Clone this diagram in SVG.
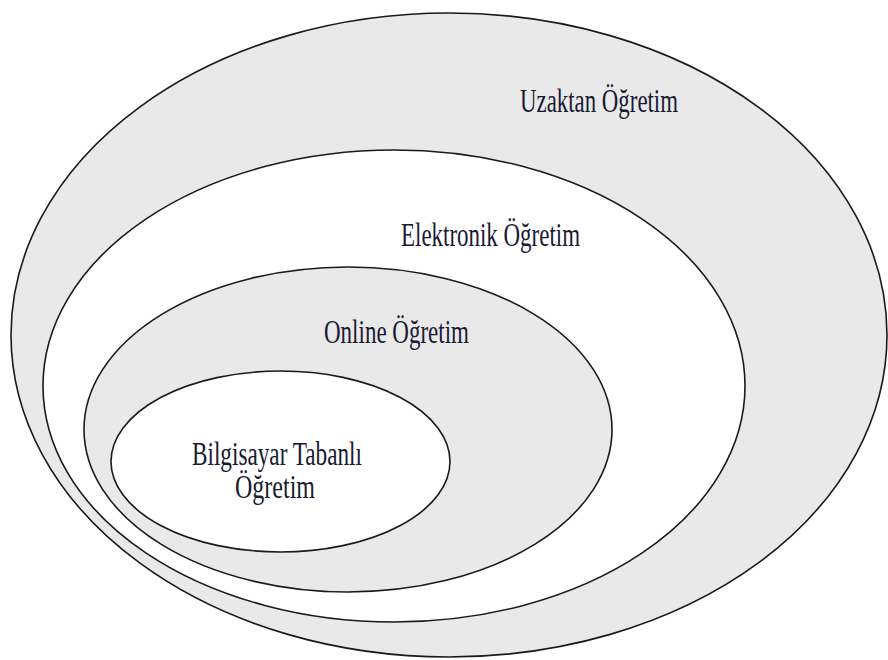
<svg xmlns="http://www.w3.org/2000/svg" width="888" height="660" viewBox="0 0 888 660">
<style>
.gray{fill:#e9e9e9;stroke:#1a1a1a;stroke-width:1.6}
.white{fill:#ffffff;stroke:#1a1a1a;stroke-width:1.6}
.lbl{font-family:"Liberation Serif","Times New Roman",serif;font-size:33px;fill:#1a1a33;}
</style>
<rect x="0" y="0" width="888" height="660" fill="#ffffff"/>
<g id="uzaktan">
<ellipse class="gray" cx="449" cy="335" rx="438" ry="322"/>
<text class="lbl" x="520" y="112" textLength="158" lengthAdjust="spacingAndGlyphs">Uzaktan Öğretim</text>
</g>
<g id="elektronik">
<ellipse class="white" cx="394" cy="386" rx="351" ry="236"/>
<text class="lbl" x="401" y="246" textLength="179" lengthAdjust="spacingAndGlyphs">Elektronik Öğretim</text>
</g>
<g id="online">
<ellipse class="gray" cx="348" cy="429.5" rx="264" ry="162.5"/>
<text class="lbl" x="324" y="343" textLength="145" lengthAdjust="spacingAndGlyphs">Online Öğretim</text>
</g>
<g id="bilgisayar">
<ellipse class="white" cx="280.5" cy="461.5" rx="169.5" ry="90.5"/>
<text class="lbl" x="192" y="465" textLength="170" lengthAdjust="spacingAndGlyphs">Bilgisayar Tabanlı</text>
<text class="lbl" x="235" y="498" textLength="80" lengthAdjust="spacingAndGlyphs">Öğretim</text>
</g>
<g id="connectors"/>
</svg>
